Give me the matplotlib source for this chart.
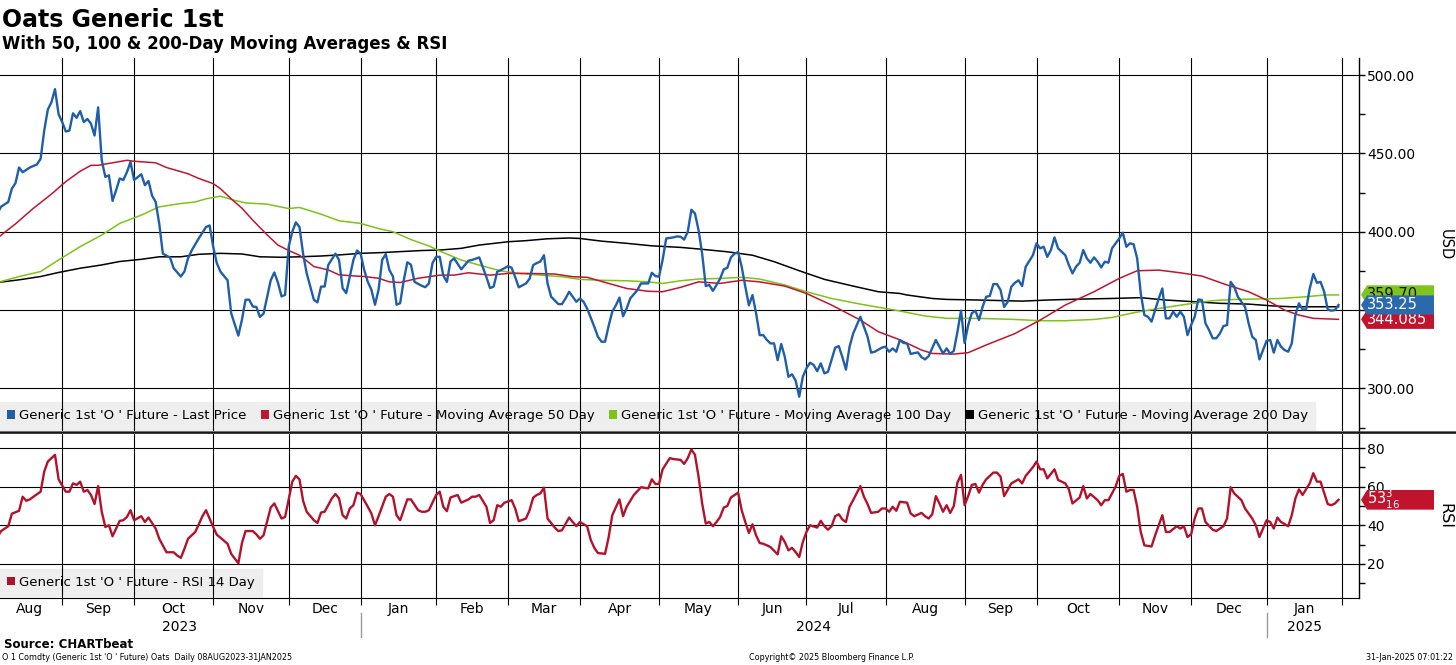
import matplotlib
matplotlib.use("Agg")
import matplotlib.pyplot as plt
from matplotlib.lines import Line2D
from matplotlib.patches import Patch, Polygon
import pandas as pd

plt.rcParams['font.family'] = ['DejaVu Sans']

# --- data ---

holidays = ["2023-09-04", "2023-11-23", "2023-12-25", "2024-01-01", "2024-01-15",
            "2024-02-19", "2024-03-29", "2024-05-27", "2024-06-19", "2024-07-04",
            "2024-09-02", "2024-11-28", "2024-12-25", "2025-01-01", "2025-01-20"]

price = [
    ("2023-08-08", 411.7), ("2023-08-09", 416), ("2023-08-11", 419), ("2023-08-14", 427.5),
    ("2023-08-15", 431), ("2023-08-16", 441), ("2023-08-17", 438), ("2023-08-21", 441),
    ("2023-08-23", 443), ("2023-08-24", 446.6), ("2023-08-25", 464.6), ("2023-08-28", 478),
    ("2023-08-29", 482.6), ("2023-08-30", 491), ("2023-08-31", 475),
    ("2023-09-01", 470), ("2023-09-05", 464), ("2023-09-06", 464.6), ("2023-09-07", 475.6),
    ("2023-09-08", 472.7), ("2023-09-11", 477), ("2023-09-12", 470), ("2023-09-13", 472),
    ("2023-09-14", 469), ("2023-09-15", 461.4), ("2023-09-18", 479.4), ("2023-09-19", 445.6),
    ("2023-09-20", 435), ("2023-09-21", 436), ("2023-09-22", 419.7), ("2023-09-25", 426.5),
    ("2023-09-26", 434), ("2023-09-27", 433), ("2023-09-28", 438), ("2023-09-29", 444.5),
    ("2023-10-02", 433), ("2023-10-04", 436.7), ("2023-10-05", 429.7), ("2023-10-06", 432.4),
    ("2023-10-09", 423), ("2023-10-10", 419), ("2023-10-11", 405), ("2023-10-12", 386),
    ("2023-10-16", 383.5), ("2023-10-17", 376.7), ("2023-10-19", 371.4), ("2023-10-20", 374.6),
    ("2023-10-23", 383), ("2023-10-24", 388), ("2023-10-26", 395.8), ("2023-10-30", 403),
    ("2023-10-31", 404),
    ("2023-11-01", 390.5), ("2023-11-02", 380), ("2023-11-03", 374.6), ("2023-11-07", 369),
    ("2023-11-08", 348), ("2023-11-10", 333.7), ("2023-11-13", 343.9), ("2023-11-14", 356.6),
    ("2023-11-15", 356.6), ("2023-11-16", 352.3), ("2023-11-17", 352), ("2023-11-20", 345.6),
    ("2023-11-21", 347.7), ("2023-11-24", 369), ("2023-11-27", 374), ("2023-11-28", 367.6),
    ("2023-11-29", 358.7), ("2023-11-30", 359.7),
    ("2023-12-01", 390.5), ("2023-12-04", 400), ("2023-12-05", 406), ("2023-12-06", 403),
    ("2023-12-07", 386), ("2023-12-08", 373.5), ("2023-12-11", 365), ("2023-12-12", 356.6),
    ("2023-12-13", 354.9), ("2023-12-14", 365), ("2023-12-15", 365), ("2023-12-18", 378.8),
    ("2023-12-20", 386), ("2023-12-21", 382), ("2023-12-22", 364), ("2023-12-26", 360.8),
    ("2023-12-27", 371.4), ("2023-12-28", 382), ("2023-12-29", 388),
    ("2024-01-02", 386), ("2024-01-03", 375.6), ("2024-01-04", 368), ("2024-01-05", 363),
    ("2024-01-08", 353.4), ("2024-01-09", 363), ("2024-01-10", 382), ("2024-01-11", 385.8),
    ("2024-01-12", 375.6), ("2024-01-16", 371.4), ("2024-01-17", 353.4), ("2024-01-18", 354.4),
    ("2024-01-19", 369), ("2024-01-22", 380.5), ("2024-01-23", 379), ("2024-01-24", 368),
    ("2024-01-26", 365.5), ("2024-01-29", 364.6), ("2024-01-30", 367), ("2024-01-31", 380),
    ("2024-02-01", 384), ("2024-02-02", 384), ("2024-02-05", 372), ("2024-02-06", 368),
    ("2024-02-07", 381), ("2024-02-08", 383), ("2024-02-12", 376), ("2024-02-14", 381.5),
    ("2024-02-15", 382), ("2024-02-20", 383.6), ("2024-02-22", 371), ("2024-02-23", 364),
    ("2024-02-26", 365), ("2024-02-27", 374.5), ("2024-02-28", 375.5),
    ("2024-03-01", 378), ("2024-03-04", 377), ("2024-03-05", 371), ("2024-03-06", 364.5),
    ("2024-03-08", 367), ("2024-03-11", 370), ("2024-03-12", 378.7), ("2024-03-13", 380),
    ("2024-03-14", 381), ("2024-03-15", 385), ("2024-03-18", 367), ("2024-03-19", 358.5),
    ("2024-03-21", 353.8), ("2024-03-22", 353.8), ("2024-03-25", 357.4), ("2024-03-26", 361.7),
    ("2024-03-27", 358.5), ("2024-03-28", 355.3),
    ("2024-04-01", 357.4), ("2024-04-02", 355.3), ("2024-04-03", 351), ("2024-04-05", 339.4),
    ("2024-04-08", 333), ("2024-04-09", 329.8), ("2024-04-10", 329.8), ("2024-04-11", 340),
    ("2024-04-12", 349), ("2024-04-15", 353), ("2024-04-16", 358), ("2024-04-17", 346),
    ("2024-04-18", 351), ("2024-04-19", 357.4), ("2024-04-23", 362.8), ("2024-04-24", 367),
    ("2024-04-26", 367), ("2024-04-29", 373.8), ("2024-04-30", 371.7),
    ("2024-05-01", 371.3), ("2024-05-02", 382), ("2024-05-03", 395.7), ("2024-05-07", 396.4),
    ("2024-05-08", 397), ("2024-05-09", 396.8), ("2024-05-10", 395), ("2024-05-13", 400),
    ("2024-05-14", 414), ("2024-05-15", 411.7), ("2024-05-16", 401), ("2024-05-17", 386),
    ("2024-05-20", 365.3), ("2024-05-21", 366), ("2024-05-22", 362.3), ("2024-05-23", 366),
    ("2024-05-24", 370), ("2024-05-28", 376), ("2024-05-29", 377), ("2024-05-30", 383.6),
    ("2024-05-31", 386),
    ("2024-06-03", 387), ("2024-06-04", 377.6), ("2024-06-05", 365), ("2024-06-06", 353),
    ("2024-06-07", 359.6), ("2024-06-10", 348), ("2024-06-11", 334), ("2024-06-12", 334),
    ("2024-06-13", 330.9), ("2024-06-14", 328.7), ("2024-06-17", 328.7), ("2024-06-18", 318),
    ("2024-06-20", 328.3), ("2024-06-21", 320), ("2024-06-24", 307.4), ("2024-06-25", 309),
    ("2024-06-26", 305), ("2024-06-27", 294.7), ("2024-06-28", 307.4),
    ("2024-07-01", 312.8), ("2024-07-02", 316.4), ("2024-07-03", 315), ("2024-07-05", 311),
    ("2024-07-08", 316), ("2024-07-09", 309.6), ("2024-07-10", 310.6), ("2024-07-12", 326),
    ("2024-07-15", 327), ("2024-07-16", 320), ("2024-07-17", 312), ("2024-07-18", 326.6),
    ("2024-07-19", 335), ("2024-07-23", 345.7), ("2024-07-24", 339.4), ("2024-07-25", 333),
    ("2024-07-26", 322.8), ("2024-07-29", 323.4), ("2024-07-31", 326),
    ("2024-08-01", 326.6), ("2024-08-02", 323.4), ("2024-08-05", 325.5), ("2024-08-06", 323.4),
    ("2024-08-07", 330.9), ("2024-08-08", 329), ("2024-08-09", 328.7), ("2024-08-12", 322),
    ("2024-08-14", 323), ("2024-08-15", 320), ("2024-08-16", 318.5), ("2024-08-19", 320.6),
    ("2024-08-21", 330.9), ("2024-08-22", 326.6), ("2024-08-23", 322.3), ("2024-08-26", 325.5),
    ("2024-08-27", 322), ("2024-08-28", 324), ("2024-08-29", 336), ("2024-08-30", 349.6),
    ("2024-09-03", 329), ("2024-09-04", 340.4), ("2024-09-05", 348), ("2024-09-06", 349.6),
    ("2024-09-09", 343.6), ("2024-09-10", 352), ("2024-09-11", 358.5), ("2024-09-12", 359),
    ("2024-09-13", 366.6), ("2024-09-16", 366.6), ("2024-09-17", 362.8), ("2024-09-18", 352),
    ("2024-09-19", 355.3), ("2024-09-20", 364.9), ("2024-09-23", 367.4), ("2024-09-24", 369),
    ("2024-09-25", 365.3), ("2024-09-26", 377.7), ("2024-09-30", 385),
    ("2024-10-01", 392.6), ("2024-10-02", 389.4), ("2024-10-03", 390.4), ("2024-10-04", 384),
    ("2024-10-07", 388.3), ("2024-10-08", 396.4), ("2024-10-09", 389.4), ("2024-10-11", 385),
    ("2024-10-14", 378.7), ("2024-10-15", 373.4), ("2024-10-16", 377.7), ("2024-10-17", 380.2),
    ("2024-10-18", 388.3), ("2024-10-21", 383), ("2024-10-22", 380.2), ("2024-10-23", 383.6),
    ("2024-10-24", 380.9), ("2024-10-25", 377.2), ("2024-10-28", 380.9), ("2024-10-29", 380.2),
    ("2024-10-30", 389.4),
    ("2024-11-01", 395.7), ("2024-11-04", 399.4), ("2024-11-05", 390.4), ("2024-11-06", 392.6),
    ("2024-11-07", 392), ("2024-11-08", 383), ("2024-11-11", 360.6), ("2024-11-12", 346.8),
    ("2024-11-13", 345.7), ("2024-11-14", 342.6), ("2024-11-15", 350), ("2024-11-18", 357.4),
    ("2024-11-19", 363.8), ("2024-11-20", 344.7), ("2024-11-21", 344.7), ("2024-11-22", 349),
    ("2024-11-25", 345.7), ("2024-11-26", 349), ("2024-11-27", 345.7), ("2024-11-29", 334),
    ("2024-12-02", 340.4), ("2024-12-03", 345.7), ("2024-12-04", 356.8), ("2024-12-05", 356.4),
    ("2024-12-06", 341.5), ("2024-12-09", 337.2), ("2024-12-10", 332), ("2024-12-11", 332),
    ("2024-12-12", 335), ("2024-12-13", 339.8), ("2024-12-16", 340.4), ("2024-12-17", 368),
    ("2024-12-18", 364.9), ("2024-12-19", 358.5), ("2024-12-23", 352), ("2024-12-24", 341.5),
    ("2024-12-26", 333), ("2024-12-27", 330.9), ("2024-12-30", 318.5), ("2024-12-31", 324.5),
    ("2025-01-02", 330.4), ("2025-01-03", 330.9), ("2025-01-06", 322.8), ("2025-01-07", 330.9),
    ("2025-01-08", 326.6), ("2025-01-09", 324.5), ("2025-01-10", 323.4), ("2025-01-13", 328.7),
    ("2025-01-14", 346.8), ("2025-01-15", 354.3), ("2025-01-16", 350.4), ("2025-01-17", 350.4),
    ("2025-01-21", 363.8), ("2025-01-22", 373), ("2025-01-23", 367.4), ("2025-01-24", 368),
    ("2025-01-27", 361.7), ("2025-01-28", 350.4), ("2025-01-29", 349.6), ("2025-01-30", 350),
    ("2025-01-31", 353.25),
]

ma50 = [
    ("2023-08-08", 396), ("2023-08-15", 405), ("2023-08-22", 415), ("2023-08-29", 424),
    ("2023-09-05", 432), ("2023-09-11", 438.6), ("2023-09-14", 442.4), ("2023-09-18", 442.4),
    ("2023-09-22", 444), ("2023-09-28", 445.6), ("2023-10-02", 445), ("2023-10-05", 444.5),
    ("2023-10-10", 444), ("2023-10-13", 441), ("2023-10-23", 437), ("2023-10-26", 434),
    ("2023-11-01", 430.7), ("2023-11-03", 427.5), ("2023-11-08", 421), ("2023-11-13", 415),
    ("2023-11-16", 407.4), ("2023-11-22", 398), ("2023-11-28", 391.5), ("2023-12-01", 388),
    ("2023-12-06", 385), ("2023-12-12", 377.8), ("2023-12-18", 375.6), ("2023-12-21", 372.5),
    ("2023-12-28", 371.8), ("2024-01-03", 371.4), ("2024-01-09", 370.3), ("2024-01-12", 368),
    ("2024-01-18", 367.6), ("2024-01-25", 370.3), ("2024-02-02", 372.3), ("2024-02-08", 372.3),
    ("2024-02-14", 373.8), ("2024-02-23", 372.3), ("2024-03-01", 373.4), ("2024-03-08", 373.4),
    ("2024-03-20", 373), ("2024-03-27", 371.3), ("2024-04-03", 370.9), ("2024-04-11", 367),
    ("2024-04-18", 363.8), ("2024-04-26", 362), ("2024-05-02", 361.7), ("2024-05-09", 364.5),
    ("2024-05-16", 368), ("2024-05-24", 367), ("2024-06-04", 369), ("2024-06-11", 368),
    ("2024-06-21", 365.3), ("2024-07-01", 360.6), ("2024-07-11", 353.2), ("2024-07-23", 343.6),
    ("2024-07-30", 336.2), ("2024-08-07", 331), ("2024-08-15", 324.5), ("2024-08-20", 322.3),
    ("2024-08-28", 321.9), ("2024-09-04", 322.8), ("2024-09-11", 327.7), ("2024-09-23", 335),
    ("2024-10-02", 343.6), ("2024-10-11", 353.2), ("2024-10-23", 361.7), ("2024-11-01", 370.2),
    ("2024-11-08", 375.1), ("2024-11-18", 375.5), ("2024-11-26", 373.8), ("2024-12-05", 371.7),
    ("2024-12-16", 366), ("2024-12-24", 361.7), ("2025-01-02", 356.4), ("2025-01-09", 350),
    ("2025-01-15", 346.8), ("2025-01-22", 344.7), ("2025-01-31", 344.085),
]

ma100 = [
    ("2023-08-08", 367.6), ("2023-08-16", 371.4), ("2023-08-24", 374.6), ("2023-08-31", 382),
    ("2023-09-11", 390.5), ("2023-09-19", 397.9), ("2023-09-26", 405.3), ("2023-10-04", 410.6),
    ("2023-10-11", 415.9), ("2023-10-19", 418), ("2023-10-25", 419), ("2023-10-30", 421),
    ("2023-11-03", 422.7), ("2023-11-09", 420), ("2023-11-14", 418.4), ("2023-11-22", 417.6),
    ("2023-12-01", 414.8), ("2023-12-06", 415.5), ("2023-12-14", 411.2), ("2023-12-21", 407),
    ("2024-01-02", 405.3), ("2024-01-09", 402), ("2024-01-16", 400), ("2024-01-23", 395),
    ("2024-01-30", 390.9), ("2024-02-02", 387.7), ("2024-02-12", 381.9), ("2024-02-20", 378.7),
    ("2024-02-28", 375), ("2024-03-06", 373.4), ("2024-03-14", 372.3), ("2024-03-22", 371.3),
    ("2024-04-01", 369.6), ("2024-04-09", 369), ("2024-04-18", 368.7), ("2024-04-26", 368),
    ("2024-05-02", 367), ("2024-05-09", 368.7), ("2024-05-16", 369.8), ("2024-05-24", 370.2),
    ("2024-06-04", 370.9), ("2024-06-11", 369.8), ("2024-06-21", 366), ("2024-07-01", 361.7),
    ("2024-07-11", 357.4), ("2024-07-23", 353.8), ("2024-08-01", 351), ("2024-08-07", 349.4),
    ("2024-08-16", 346.2), ("2024-08-26", 344.7), ("2024-09-09", 344.7), ("2024-09-23", 344),
    ("2024-10-02", 343.2), ("2024-10-11", 343.2), ("2024-10-23", 344), ("2024-10-30", 345.3),
    ("2024-11-07", 348.3), ("2024-11-18", 351), ("2024-11-29", 353.8), ("2024-12-10", 356),
    ("2024-12-18", 356.8), ("2024-12-26", 357), ("2025-01-08", 357.4), ("2025-01-17", 358.5),
    ("2025-01-27", 359.6), ("2025-01-31", 359.70),
]

ma200 = [
    ("2023-08-08", 367.6), ("2023-08-16", 369.3), ("2023-08-24", 371.4), ("2023-08-31", 374),
    ("2023-09-11", 376.7), ("2023-09-19", 378.8), ("2023-09-26", 381), ("2023-10-04", 382.4),
    ("2023-10-11", 384), ("2023-10-19", 384), ("2023-10-26", 385.6), ("2023-11-03", 386.2),
    ("2023-11-13", 385.8), ("2023-11-20", 384), ("2023-11-29", 383.7), ("2023-12-06", 384),
    ("2023-12-14", 384.5), ("2023-12-21", 385.2), ("2024-01-02", 386.2), ("2024-01-10", 386.7),
    ("2024-01-18", 387.3), ("2024-01-26", 388), ("2024-02-02", 388.3), ("2024-02-12", 389.4),
    ("2024-02-20", 391.5), ("2024-03-01", 393.6), ("2024-03-08", 394.3), ("2024-03-18", 395.5),
    ("2024-03-26", 396), ("2024-04-01", 395.7), ("2024-04-09", 394), ("2024-04-18", 392.6),
    ("2024-04-29", 391), ("2024-05-09", 390), ("2024-05-16", 389), ("2024-05-29", 387.2),
    ("2024-06-07", 385), ("2024-06-17", 380.9), ("2024-06-27", 375.1), ("2024-07-09", 369.6),
    ("2024-07-19", 365.3), ("2024-07-30", 361.7), ("2024-08-07", 360.6), ("2024-08-09", 359.6),
    ("2024-08-20", 357.4), ("2024-08-26", 356.8), ("2024-09-09", 356.4), ("2024-09-25", 355.7),
    ("2024-10-04", 356.4), ("2024-10-17", 357), ("2024-10-30", 357.4), ("2024-11-11", 357.9),
    ("2024-11-20", 356.4), ("2024-12-03", 355.3), ("2024-12-12", 354.3), ("2024-12-24", 353.8),
    ("2025-01-06", 352.6), ("2025-01-13", 352.1), ("2025-01-22", 352.1), ("2025-01-31", 352.1),
]

rsi = [
    ("2023-08-08", 33.9), ("2023-08-09", 37), ("2023-08-11", 39.5), ("2023-08-14", 46),
    ("2023-08-16", 47.5), ("2023-08-17", 54.8), ("2023-08-18", 52.7), ("2023-08-21", 53.4),
    ("2023-08-22", 54.8), ("2023-08-24", 57.4), ("2023-08-25", 67.8), ("2023-08-28", 73),
    ("2023-08-30", 76.5), ("2023-08-31", 63.8),
    ("2023-09-05", 57.4), ("2023-09-06", 57.4), ("2023-09-07", 61.7), ("2023-09-08", 60.9),
    ("2023-09-11", 62.6), ("2023-09-12", 57.4), ("2023-09-13", 58.3), ("2023-09-14", 55.7),
    ("2023-09-15", 51), ("2023-09-18", 60.3), ("2023-09-19", 47), ("2023-09-20", 39.1),
    ("2023-09-21", 40), ("2023-09-22", 34.3), ("2023-09-26", 42.3), ("2023-09-27", 42.6),
    ("2023-09-28", 44.3), ("2023-09-29", 47.8),
    ("2023-10-02", 42.6), ("2023-10-04", 44.7), ("2023-10-05", 41.7), ("2023-10-06", 44),
    ("2023-10-10", 38.3), ("2023-10-11", 33), ("2023-10-13", 26), ("2023-10-17", 26),
    ("2023-10-18", 24.3), ("2023-10-19", 23.1), ("2023-10-20", 27.8), ("2023-10-23", 33),
    ("2023-10-25", 36.5), ("2023-10-26", 40.5), ("2023-10-27", 44.7), ("2023-10-30", 47.8),
    ("2023-11-01", 39.1), ("2023-11-02", 35.1), ("2023-11-03", 33.6), ("2023-11-07", 30.4),
    ("2023-11-08", 25.2), ("2023-11-10", 20.3), ("2023-11-13", 30.8), ("2023-11-14", 37),
    ("2023-11-16", 37), ("2023-11-17", 35.3), ("2023-11-20", 33), ("2023-11-21", 34.8),
    ("2023-11-24", 49.2), ("2023-11-27", 51.3), ("2023-11-29", 43.5), ("2023-11-30", 44.3),
    ("2023-12-04", 62.6), ("2023-12-05", 65.6), ("2023-12-06", 63.8), ("2023-12-07", 52.7),
    ("2023-12-08", 47), ("2023-12-12", 42.6), ("2023-12-13", 41.2), ("2023-12-14", 46.6),
    ("2023-12-15", 47), ("2023-12-19", 53.9), ("2023-12-20", 56.2), ("2023-12-21", 53.9),
    ("2023-12-22", 45.2), ("2023-12-26", 43.5), ("2023-12-27", 48.7), ("2023-12-28", 50.4),
    ("2023-12-29", 56.9),
    ("2024-01-02", 56.2), ("2024-01-04", 49.6), ("2024-01-05", 46.1), ("2024-01-08", 40),
    ("2024-01-09", 44.7), ("2024-01-11", 54.8), ("2024-01-12", 56.2), ("2024-01-16", 54.8),
    ("2024-01-17", 45.2), ("2024-01-18", 42.6), ("2024-01-22", 53.4), ("2024-01-23", 53.4),
    ("2024-01-25", 47.8), ("2024-01-26", 47), ("2024-01-29", 47), ("2024-01-30", 47.8),
    ("2024-02-01", 55.7), ("2024-02-02", 57.4), ("2024-02-05", 49.6), ("2024-02-06", 47.3),
    ("2024-02-07", 54.4), ("2024-02-09", 55.7), ("2024-02-12", 51.7), ("2024-02-14", 53.4),
    ("2024-02-15", 54.8), ("2024-02-16", 54.8), ("2024-02-20", 55.7), ("2024-02-22", 49.6),
    ("2024-02-23", 41.2), ("2024-02-26", 42.6), ("2024-02-27", 50.4), ("2024-02-28", 49.6),
    ("2024-02-29", 51.7),
    ("2024-03-04", 53), ("2024-03-05", 48.7), ("2024-03-06", 42.1), ("2024-03-08", 43.5),
    ("2024-03-11", 47.8), ("2024-03-12", 54.3), ("2024-03-13", 55.7), ("2024-03-14", 56.5),
    ("2024-03-15", 59.5), ("2024-03-18", 43.5), ("2024-03-20", 38.8), ("2024-03-21", 37),
    ("2024-03-22", 37.4), ("2024-03-26", 44), ("2024-03-27", 41.7), ("2024-03-28", 39.5),
    ("2024-04-01", 41.7), ("2024-04-03", 39.5), ("2024-04-04", 32.5), ("2024-04-05", 28.3),
    ("2024-04-08", 25.6), ("2024-04-10", 25.2), ("2024-04-11", 33.9), ("2024-04-12", 45.2),
    ("2024-04-16", 53.4), ("2024-04-17", 44.7), ("2024-04-18", 49.6), ("2024-04-22", 55.7),
    ("2024-04-24", 59.7), ("2024-04-26", 59.1), ("2024-04-29", 63.8), ("2024-04-30", 61.4),
    ("2024-05-01", 61.4), ("2024-05-02", 69), ("2024-05-06", 74.8), ("2024-05-07", 74.3),
    ("2024-05-09", 73.9), ("2024-05-10", 71.8), ("2024-05-13", 74.8), ("2024-05-14", 79.3),
    ("2024-05-15", 76.5), ("2024-05-16", 65.2), ("2024-05-17", 51.3), ("2024-05-20", 40.9),
    ("2024-05-21", 41.7), ("2024-05-22", 39.5), ("2024-05-23", 41.7), ("2024-05-24", 44.3),
    ("2024-05-28", 49.2), ("2024-05-29", 50), ("2024-05-30", 54.4),
    ("2024-06-03", 56.9), ("2024-06-04", 47.8), ("2024-06-05", 41.7), ("2024-06-06", 36),
    ("2024-06-07", 40.5), ("2024-06-10", 34.8), ("2024-06-11", 30.8), ("2024-06-12", 30.4),
    ("2024-06-13", 29.6), ("2024-06-14", 28.7), ("2024-06-18", 24.9), ("2024-06-20", 34.3),
    ("2024-06-21", 31.3), ("2024-06-24", 27), ("2024-06-25", 28.3), ("2024-06-26", 26.1),
    ("2024-06-27", 23.5), ("2024-06-28", 31.3),
    ("2024-07-01", 36.5), ("2024-07-02", 40), ("2024-07-05", 38.8), ("2024-07-08", 42.3),
    ("2024-07-09", 39.5), ("2024-07-10", 37.7), ("2024-07-11", 39.5), ("2024-07-12", 44.7),
    ("2024-07-15", 45.7), ("2024-07-16", 43), ("2024-07-17", 41.7), ("2024-07-18", 49.6),
    ("2024-07-19", 53), ("2024-07-23", 60.3), ("2024-07-24", 54.8), ("2024-07-25", 51),
    ("2024-07-26", 46.4), ("2024-07-30", 47), ("2024-07-31", 48.7),
    ("2024-08-01", 48.7), ("2024-08-02", 47), ("2024-08-05", 49.6), ("2024-08-06", 47.5),
    ("2024-08-07", 52.2), ("2024-08-09", 51.7), ("2024-08-12", 46.1), ("2024-08-13", 44.7),
    ("2024-08-15", 46.4), ("2024-08-16", 44.7), ("2024-08-19", 43.5), ("2024-08-20", 45.7),
    ("2024-08-21", 55.1), ("2024-08-22", 51.3), ("2024-08-23", 47), ("2024-08-26", 50.4),
    ("2024-08-27", 46.4), ("2024-08-28", 50), ("2024-08-29", 62.1), ("2024-08-30", 66.1),
    ("2024-09-03", 50.4), ("2024-09-04", 55.1), ("2024-09-05", 60.9), ("2024-09-06", 61.4),
    ("2024-09-09", 56.9), ("2024-09-10", 60.9), ("2024-09-11", 63.8), ("2024-09-13", 67.3),
    ("2024-09-16", 67.3), ("2024-09-17", 65.2), ("2024-09-18", 55.1), ("2024-09-20", 61.7),
    ("2024-09-24", 63.8), ("2024-09-25", 61.7), ("2024-09-26", 65.6), ("2024-09-30", 70.1),
    ("2024-10-01", 73), ("2024-10-02", 69), ("2024-10-03", 69), ("2024-10-04", 64.3),
    ("2024-10-08", 69), ("2024-10-09", 63.5), ("2024-10-11", 61.7), ("2024-10-14", 58.6),
    ("2024-10-15", 51.3), ("2024-10-17", 54.4), ("2024-10-18", 60.3), ("2024-10-21", 53.9),
    ("2024-10-22", 56.2), ("2024-10-24", 53), ("2024-10-25", 50.4), ("2024-10-28", 53),
    ("2024-10-29", 53), ("2024-10-31", 60),
    ("2024-11-01", 65.6), ("2024-11-04", 66.6), ("2024-11-05", 57.4), ("2024-11-06", 58.3),
    ("2024-11-07", 58.3), ("2024-11-08", 49.6), ("2024-11-11", 36.5), ("2024-11-12", 29.6),
    ("2024-11-14", 29), ("2024-11-15", 34.8), ("2024-11-19", 45.2), ("2024-11-20", 36.5),
    ("2024-11-21", 36.5), ("2024-11-25", 39.5), ("2024-11-26", 38.3), ("2024-11-27", 39.5),
    ("2024-11-29", 33.9),
    ("2024-12-02", 35.3), ("2024-12-03", 43.5), ("2024-12-04", 48.7), ("2024-12-05", 48.7),
    ("2024-12-06", 41.7), ("2024-12-10", 37.7), ("2024-12-11", 37), ("2024-12-13", 39.5),
    ("2024-12-16", 43.5), ("2024-12-17", 59.7), ("2024-12-18", 56.5), ("2024-12-20", 53),
    ("2024-12-23", 48.7), ("2024-12-26", 43.5), ("2024-12-27", 40), ("2024-12-30", 33.9),
    ("2024-12-31", 38.3),
    ("2025-01-02", 42.6), ("2025-01-03", 41.7), ("2025-01-06", 38.3), ("2025-01-07", 44),
    ("2025-01-08", 41.7), ("2025-01-10", 39.5), ("2025-01-13", 45.2), ("2025-01-14", 53.9),
    ("2025-01-15", 58.6), ("2025-01-16", 55.7), ("2025-01-21", 61.7), ("2025-01-22", 67),
    ("2025-01-23", 62.6), ("2025-01-24", 62.6), ("2025-01-28", 51), ("2025-01-29", 50.4),
    ("2025-01-30", 51.3), ("2025-01-31", 53.1875),
]

series_labels = ["Generic 1st 'O ' Future - Last Price",
                 "Generic 1st 'O ' Future - Moving Average 50 Day",
                 "Generic 1st 'O ' Future - Moving Average 100 Day",
                 "Generic 1st 'O ' Future - Moving Average 200 Day"]
rsi_label = "Generic 1st 'O ' Future - RSI 14 Day"

BLUE = '#1f5ea8'
RED = '#c0152f'
GREEN = '#7cc416'
RSI_RED = '#b3122b'

# trading-day axis (Bloomberg plots without gaps for weekends/holidays)
cal = pd.bdate_range("2023-08-08", "2025-02-03", freq="C", holidays=holidays)


def unpack(pairs):
    d, v = zip(*pairs)
    idx = cal.get_indexer(pd.to_datetime(list(d)))
    assert (idx >= 0).all(), [x for x, i in zip(d, idx) if i < 0]
    return idx, list(v)


months = cal.to_period('M')
month_starts = [i for i in range(1, len(cal)) if months[i] != months[i - 1]]
seg_bounds = [0] + month_starts
month_mids = [(a + b) / 2 for a, b in zip(seg_bounds[:-1], seg_bounds[1:])]
month_names = [cal[a].strftime('%b') for a in seg_bounds[:-1]]
year_starts = [i for i in month_starts if cal[i].month == 1]
year_bounds = [0] + year_starts + [month_starts[-1]]
year_mids = [(a + b) / 2 for a, b in zip(year_bounds[:-1], year_bounds[1:])]
year_names = [str(cal[a].year) for a in year_bounds[:-1]]

W, H = 1456, 665
fig = plt.figure(figsize=(W / 100, H / 100), dpi=100)
ax = fig.add_axes([0, 1 - 431 / H, 1359 / W, (431 - 58) / H])
ax2 = fig.add_axes([0, 1 - 598 / H, 1359 / W, (598 - 434) / H])

XLIM = (0.7, 378.7)

# --- price panel ---
for a in (ax, ax2):
    a.set_xlim(*XLIM)
    a.set_xticks(month_starts)
    a.grid(True, which='major', color='black', lw=0.8)
    a.set_axisbelow(True)
    for s in ('top', 'left'):
        a.spines[s].set_visible(False)
    a.spines['right'].set_linewidth(1.0)
    a.yaxis.tick_right()

ax.spines['bottom'].set_visible(False)
ax.tick_params(axis='x', length=0, labelbottom=False)

for pairs, col, lw, z in [(ma200, 'black', 1.1, 3), (ma100, GREEN, 1.1, 3.1),
                          (ma50, RED, 1.1, 3.2), (price, BLUE, 1.7, 4)]:
    i, v = unpack(pairs)
    ax.plot(i, v, color=col, lw=lw, zorder=z)

ax.set_ylim(272.8, 510.9)
ax.set_yticks([300, 350, 400, 450, 500])
ax.set_yticklabels([f"{t:.2f}" for t in [300, 350, 400, 450, 500]])
ax.set_yticks([275, 325, 375, 425, 475], minor=True)
ax.tick_params(axis='y', which='both', direction='out', length=4, width=1,
               labelsize=10, pad=2, right=True, left=False)

handles = [Patch(facecolor=c, edgecolor='none') for c in (BLUE, RED, GREEN, 'black')]
leg = ax.legend(handles, series_labels, loc='lower left', bbox_to_anchor=(0, 0.004),
                ncol=4, fontsize=9.5, handlelength=0.6, handleheight=0.6,
                handletextpad=0.3, columnspacing=1.1, borderpad=0.55,
                borderaxespad=0, fancybox=False, framealpha=1)
leg.get_frame().set_facecolor('#eeeeee')
leg.get_frame().set_edgecolor('#eeeeee')
leg.set_zorder(0.3)   # gridlines run over the legend box, as in the original

# --- RSI panel ---
ri, rv = unpack(rsi)
ax2.plot(ri, rv, color=RSI_RED, lw=1.7, zorder=4)
ax2.set_ylim(2.3, 87.3)
ax2.set_yticks([20, 40, 60, 80])
ax2.set_yticks([10, 30, 50, 70], minor=True)
ax2.tick_params(axis='y', which='both', direction='out', length=4, width=1,
                labelsize=10, pad=2, right=True, left=False)
ax2.set_xticks(month_mids, minor=True)
ax2.set_xticklabels(month_names, minor=True)
ax2.tick_params(axis='x', which='major', direction='out', length=5, labelbottom=False)
ax2.tick_params(axis='x', which='minor', length=0, labelsize=10, pad=3)
leg2 = ax2.legend([Patch(facecolor=RSI_RED, edgecolor='none')], [rsi_label],
                  loc='lower left', bbox_to_anchor=(0, 0.012), fontsize=9.5,
                  handlelength=0.6, handleheight=0.6, handletextpad=0.3,
                  borderpad=0.55, borderaxespad=0, fancybox=False, framealpha=1)
leg2.get_frame().set_facecolor('#eeeeee')
leg2.get_frame().set_edgecolor('#eeeeee')
leg2.set_zorder(0.3)

xt = ax2.get_xaxis_transform()
for x, name in zip(year_mids, year_names):
    ax2.text(x, -0.175, name, transform=xt, ha='center', va='center', fontsize=10)
for x in year_starts:
    ax2.add_line(Line2D([x, x], [-0.09, -0.235], transform=xt, color='#999999',
                        lw=1, clip_on=False))


# --- last-value tags on the right ---
def tag(a, value, half, color, text, tcolor, z):
    tr = a.get_yaxis_transform()
    x0, x1, x2 = 1 + 2 / 1359, 1 + 8 / 1359, 1 + 75 / 1359
    a.add_patch(Polygon([(x0, value), (x1, value + half), (x2, value + half),
                         (x2, value - half), (x1, value - half)], closed=True,
                        transform=tr, facecolor=color, edgecolor='none',
                        clip_on=False, zorder=z))
    a.text(1 + 8 / 1359, value, text, transform=tr, ha='left', va='center',
           color=tcolor, fontsize=10.5, clip_on=False, zorder=z + 0.5)


tag(ax, ma100[-1][1], 6.1, '#7dc41b', f"{ma100[-1][1]:.2f}", '#111111', 10)
tag(ax, ma50[-1][1], 6.1, '#c2132d', f"{ma50[-1][1]:.3f}", 'white', 11)
tag(ax, price[-1][1], 6.1, '#2a69ae', f"{price[-1][1]:.2f}", 'white', 12)
tag(ax2, rsi[-1][1], 5.1, '#c2132d', r'$\mathregular{53^{3}_{16}}$', 'white', 10)

fig.text(1445 / W, 1 - 245 / H, 'USD', rotation=270, ha='center', va='center', fontsize=10.5)
fig.text(1445 / W, 1 - 516 / H, 'RSI', rotation=270, ha='center', va='center', fontsize=11.5)

# separator between the panels (thin dark double rule)
for yy, c in ((431.8, '#444444'), (433.4, 'black')):
    fig.add_artist(Line2D([0, 1], [1 - yy / H] * 2, transform=fig.transFigure,
                          color=c, lw=1.1))

# titles and footer
fig.text(2 / W, 1 - 27 / H, 'Oats Generic 1st', fontsize=17, fontweight='bold', va='baseline')
fig.text(2 / W, 1 - 49.3 / H, 'With 50, 100 & 200-Day Moving Averages & RSI',
         fontsize=12, fontweight='bold', va='baseline')
fig.text(4 / W, 1 - 648 / H, 'Source: CHARTbeat', fontsize=8.5, fontweight='bold', va='baseline')
fig.text(2 / W, 1 - 660.5 / H,
         "O 1 Comdty (Generic 1st 'O ' Future) Oats  Daily 08AUG2023-31JAN2025",
         fontsize=5.8, va='baseline')
fig.text(749 / W, 1 - 660.5 / H, 'Copyright\u00a9 2025 Bloomberg Finance L.P.',
         fontsize=5.8, va='baseline')
fig.text(1453 / W, 1 - 660.5 / H, '31-Jan-2025 07:01:22', fontsize=5.8,
         ha='right', va='baseline')

fig.savefig('out.png', dpi=100)
